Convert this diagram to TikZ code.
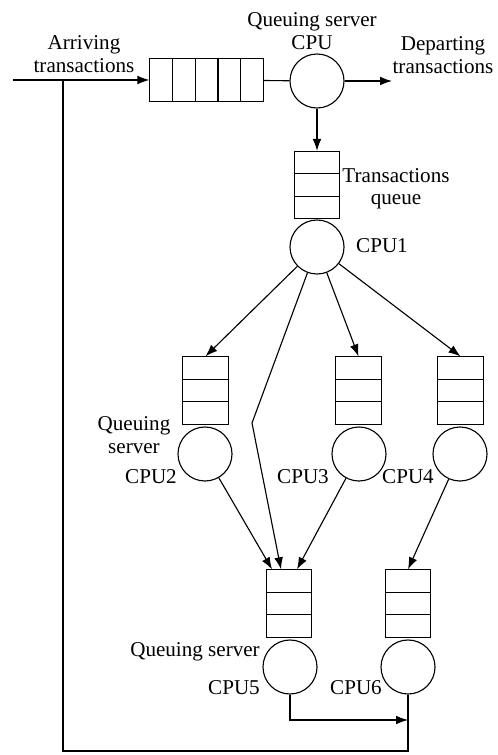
\documentclass[tikz,border=0pt]{standalone}
\usepackage{fontspec}
\setmainfont{Liberation Serif}
\usetikzlibrary{arrows.meta,calc}

\tikzset{
  hqueue/.style={draw,rectangle,minimum width=2.83cm,minimum height=1.08cm,inner sep=0pt},
  vqueue/.style={draw,rectangle,minimum width=1.13cm,minimum height=1.68cm,inner sep=0pt},
  cpu/.style={draw,circle,minimum size=1.35cm,inner sep=0pt},
  flow/.style={-{Latex[length=3mm,width=2.2mm]}},
  lbl/.style={align=center,font=\fontsize{15}{16}\selectfont}
}

\begin{document}
\begin{tikzpicture}[x=0.025cm,y=-0.025cm,line width=0.8pt]
	\useasboundingbox (0,0) rectangle (498,755);

	% entry queue and the first server
	\node[hqueue] (q0) at (206.5,80) {};
	\node[cpu] (cpu) at (317,81) {};
	\coordinate (src) at (13,80);
	\coordinate (depart) at (392,81);

	% transactions queue and CPU1
	\node[vqueue] (q1) at (317,185) {};
	\node[cpu] (cpu1) at (317,247) {};

	% second level
	\node[vqueue] (q2) at (205.5,390.5) {};
	\node[vqueue] (q3) at (358.5,390.5) {};
	\node[vqueue] (q4) at (460.5,390.5) {};
	\node[cpu] (cpu2) at (205,454) {};
	\node[cpu] (cpu3) at (359,454) {};
	\node[cpu] (cpu4) at (460,454) {};

	% last level
	\node[vqueue] (q5) at (289,603.5) {};
	\node[vqueue] (q6) at (408,603.5) {};
	\node[cpu] (cpu5) at (290,667) {};
	\node[cpu] (cpu6) at (408,667) {};

	% queue slots
	\foreach \i in {1,...,4}
		\draw ($(q0.north west)!\i/5!(q0.north east)$) -- ($(q0.south west)!\i/5!(q0.south east)$);
	\foreach \q in {q1,q2,q3,q4,q5,q6}
		\foreach \i in {1,2}
			\draw ($(\q.north west)!\i/3!(\q.south west)$) -- ($(\q.north east)!\i/3!(\q.south east)$);

	% helper points
	\coordinate (bend) at (252,423);
	\coordinate (q5a) at ($(q5.north)+(-17,0)$);
	\coordinate (q5b) at ($(q5.north)+(-8,0)$);
	\coordinate (q5c) at ($(q5.north)+(8,0)$);
	\coordinate (merge) at (408,720);
	\coordinate (fbr) at (408,751);
	\coordinate (fbl) at (63,751);
	\coordinate (fbt) at (63,80);

	% connections
	\draw[flow] (src) -- (q0);
	\draw (q0) -- (cpu);
	\draw[flow] (cpu) -- (depart);
	\draw[flow] (cpu) -- (q1);
	\draw[flow] (cpu1) -- (q2.north);
	\draw[flow] (cpu1) -- (q3.north);
	\draw[flow] (cpu1) -- (q4.north);
	\draw[flow] (cpu1) -- (bend) -- (q5b);
	\draw[flow] (cpu2) -- (q5a);
	\draw[flow] (cpu3) -- (q5c);
	\draw[flow] (cpu4) -- (q6.north);
	\draw[flow] (cpu5.south) |- (merge);
	\draw (cpu6.south) -- (fbr) -- (fbl) -- (fbt);

	% labels
	\node[lbl] at (84,54) {Arriving\\transactions};
	\node[lbl] at (312,31) {Queuing server\\CPU};
	\node[lbl] at (443,55) {Departing\\transactions};
	\node[lbl] at (396,189) {Transactions\\queue};
	\node[lbl] at (382,246) {CPU1};
	\node[lbl] at (134,435) {Queuing\\server};
	\node[lbl] at (151,477) {CPU2};
	\node[lbl] at (303,477) {CPU3};
	\node[lbl] at (408,477) {CPU4};
	\node[lbl] at (195,652) {Queuing server};
	\node[lbl] at (234,688) {CPU5};
	\node[lbl] at (356,688) {CPU6};
\end{tikzpicture}
\end{document}
